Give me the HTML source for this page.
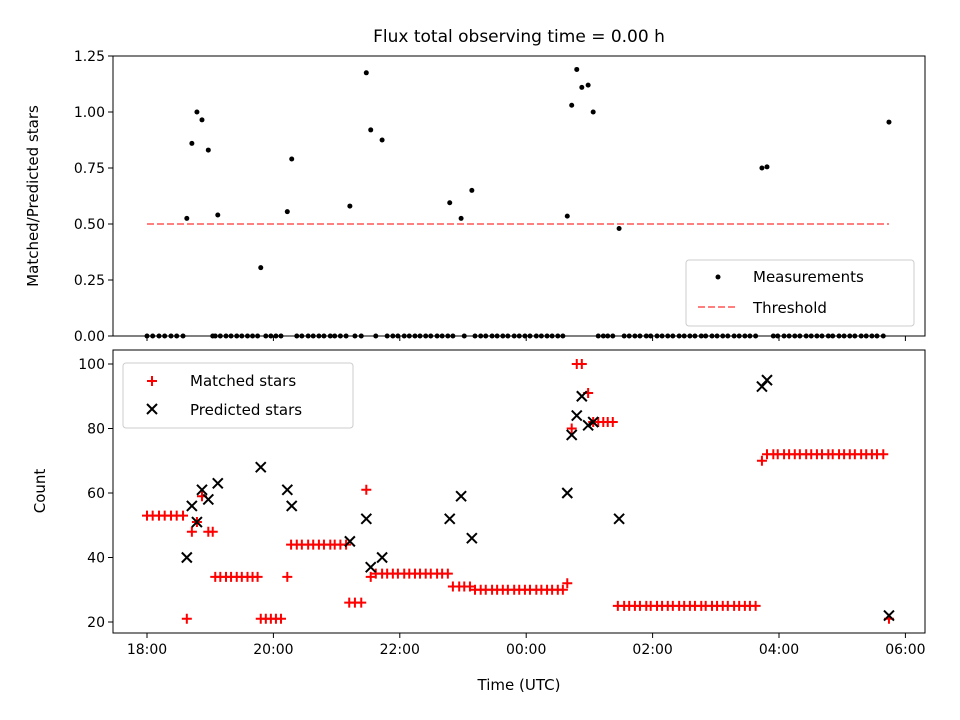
<!DOCTYPE html>
<html><head><meta charset="utf-8"><style>
body{margin:0;background:#fff}
svg{display:block;font-family:"DejaVu Sans","Liberation Sans",sans-serif}
</style></head><body>
<svg id="chart" width="960" height="720" xmlns="http://www.w3.org/2000/svg">
<rect width="960" height="720" fill="#fff"/>
<text x="519" y="42" font-size="17" text-anchor="middle">Flux total observing time = 0.00 h</text>
<g id="topPanel"></g>
<g id="botPanel"></g>
<text transform="translate(38,196) rotate(-90)" font-size="15" text-anchor="middle">Matched/Predicted stars</text>
<text transform="translate(45,491) rotate(-90)" font-size="15" text-anchor="middle">Count</text>
<text x="519" y="690" font-size="15" text-anchor="middle">Time (UTC)</text>
</svg>
<script>
const matchedHours=[0,0.09,0.19,0.28,0.38,0.47,0.57,0.63,0.71,0.79,0.87,0.97,1.04,
1.08,1.16,1.25,1.33,1.42,1.50,1.59,1.67,1.75,1.80,1.88,1.96,2.04,2.12,2.22,
2.28,2.37,2.45,2.55,2.63,2.72,2.80,2.90,2.97,3.06,3.15,3.20,3.29,3.39,3.47,3.54,
3.62,3.72,3.80,3.89,3.97,4.07,4.15,4.24,4.32,4.41,4.49,4.59,4.67,4.76,4.84,4.94,5.02,5.11,
5.19,5.28,5.36,5.46,5.54,5.63,5.71,5.81,5.89,5.98,6.06,6.16,6.24,6.33,6.41,6.50,6.58,
6.65,6.72,6.80,6.88,6.98,7.06,7.14,7.22,7.29,7.37,
7.45,7.55,7.63,7.72,7.80,7.90,7.97,8.07,8.15,8.24,8.32,8.42,8.50,8.59,8.67,8.77,8.84,8.94,9.02,9.11,9.19,9.29,9.37,9.46,9.54,9.63,
9.73,9.81,9.91,9.98,10.08,10.16,10.25,10.33,10.43,10.51,10.60,10.68,10.78,10.85,10.95,11.03,11.12,11.20,11.30,11.38,11.47,11.55,11.65,11.74];
const matchedValues=[53,53,53,53,53,53,53,21,48,51,59,48,48,
34,34,34,34,34,34,34,34,34,21,21,21,21,21,34,
44,44,44,44,44,44,44,44,44,44,44,26,26,26,61,34,
35,35,35,35,35,35,35,35,35,35,35,35,35,35,31,31,31,31,
30,30,30,30,30,30,30,30,30,30,30,30,30,30,30,30,30,
32,80,100,100,91,82,82,82,82,82,
25,25,25,25,25,25,25,25,25,25,25,25,25,25,25,25,25,25,25,25,25,25,25,25,25,25,
70,72,72,72,72,72,72,72,72,72,72,72,72,72,72,72,72,72,72,72,72,72,72,21];
const predHours=[0.63,0.71,0.79,0.87,0.97,1.12,1.80,2.22,2.29,3.21,3.47,3.54,3.72,4.79,4.97,5.14,6.65,6.72,6.80,6.88,6.98,7.06,7.47,9.73,9.81,11.74];
const predValues=[40,56,51,61,58,63,68,61,56,45,52,37,40,52,59,46,60,78,84,90,81,82,52,93,95,22];
const ratioValues=[0.525,0.86,1.0,0.965,0.83,0.54,0.305,0.555,0.79,0.58,1.175,0.92,0.875,0.595,0.525,0.65,0.535,1.03,1.19,1.11,1.12,1.0,0.48,0.75,0.755,0.955];
const threshold=0.5;
const xTickLabels=["18:00","20:00","22:00","00:00","02:00","04:00","06:00"];
const xTickHours=[0,2,4,6,8,10,12];
const ratioTicks=[0,0.25,0.5,0.75,1.0,1.25];
const countTicks=[20,40,60,80,100];

const NS="http://www.w3.org/2000/svg";
const AX_L=113,AX_R=925;
const xs=h=>147+h*63.2;
const yTop=v=>336-v*224;
const yBot=v=>622-(v-20)*3.225;
function mk(parent,tag,attrs){const e=document.createElementNS(NS,tag);for(const k in attrs)e.setAttribute(k,attrs[k]);parent.appendChild(e);return e;}
const topG=document.getElementById('topPanel'),botG=document.getElementById('botPanel');

function axes(g,y0,y1,ticks,yf,fmt,showX,nm){
  ticks.forEach(t=>{const y=yf(t);
    const tk=mk(g,'line',{x1:AX_L-5,x2:AX_L,y1:y,y2:y,stroke:'#000','stroke-width':1});
    
    
    const tx=mk(g,'text',{x:AX_L-8,y:y+5,'font-size':14,'text-anchor':'end'});tx.textContent=fmt(t);
    
    
  });
  xTickHours.forEach((h,i)=>{const x=xs(h);
    const tk=mk(g,'line',{x1:x,x2:x,y1:y1,y2:y1+5,stroke:'#000','stroke-width':1});
    
    
    if(showX){const tx=mk(g,'text',{x:x,y:y1+21,'font-size':14,'text-anchor':'middle'});tx.textContent=xTickLabels[i];
      
      }
  });
}
function frame(g,y0,y1,nm){const r=mk(g,'rect',{x:AX_L,y:y0,width:AX_R-AX_L,height:y1-y0,fill:'none',stroke:'#000','stroke-width':1});
  
  }

axes(topG,56,336,ratioTicks,yTop,t=>t.toFixed(2),false,'ratio');
const th=mk(topG,'line',{x1:xs(0),x2:xs(11.74),y1:yTop(threshold),y2:yTop(threshold),stroke:'#ff0000','stroke-opacity':0.5,'stroke-width':2,'stroke-dasharray':'7,3'});


matchedHours.forEach(h=>{
  if(predHours.some(p=>Math.abs(p-h)<0.03))return;
  const c=mk(topG,'circle',{cx:xs(h),cy:yTop(0),r:2.5,fill:'#000'});
  
  
});
ratioValues.forEach((v,i)=>{
  const c=mk(topG,'circle',{cx:xs(predHours[i]),cy:yTop(v),r:2.5,fill:'#000'});
  
  
});
frame(topG,56,336,'ratio');
const lg=mk(topG,'g',{});


mk(lg,'rect',{x:686,y:260,width:228,height:66,rx:3,fill:'#fff','fill-opacity':0.8,stroke:'#ccc'});
mk(lg,'circle',{cx:718,cy:277,r:2.5,fill:'#000'});
let t1=mk(lg,'text',{x:753,y:282,'font-size':15});t1.textContent='Measurements';
mk(lg,'line',{x1:698,x2:738,y1:307,y2:307,stroke:'#ff0000','stroke-opacity':0.5,'stroke-width':2,'stroke-dasharray':'7,3'});
let t2=mk(lg,'text',{x:753,y:313,'font-size':15});t2.textContent='Threshold';

axes(botG,350,633,countTicks,yBot,t=>String(t),true,'count');
function plus(g,x,y){return mk(g,'path',{d:`M${x-5},${y}H${x+5}M${x},${y-5}V${y+5}`,stroke:'#ff0000','stroke-width':2,fill:'none'});}
function cross(g,x,y){return mk(g,'path',{d:`M${x-5},${y-5}L${x+5},${y+5}M${x-5},${y+5}L${x+5},${y-5}`,stroke:'#000','stroke-width':2,fill:'none'});}
matchedValues.forEach((v,i)=>{
  const p=plus(botG,xs(matchedHours[i]),yBot(v));
  
  
});
predValues.forEach((v,i)=>{
  const p=cross(botG,xs(predHours[i]),yBot(v));
  
  
});
frame(botG,350,633,'count');
const lg2=mk(botG,'g',{});


mk(lg2,'rect',{x:123,y:363,width:230,height:65,rx:3,fill:'#fff','fill-opacity':0.8,stroke:'#ccc'});
plus(lg2,152,381);
let t3=mk(lg2,'text',{x:190,y:386,'font-size':15});t3.textContent='Matched stars';
cross(lg2,152,409);
let t4=mk(lg2,'text',{x:190,y:415,'font-size':15});t4.textContent='Predicted stars';
</script>
</body></html>
